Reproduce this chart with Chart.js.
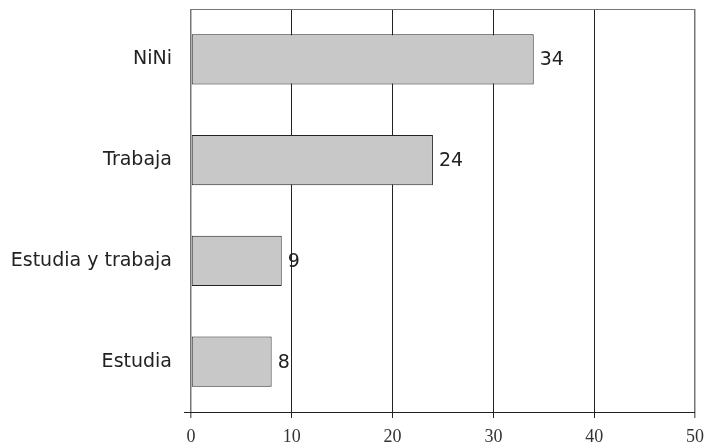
<!DOCTYPE html>
<html><head><meta charset="utf-8">
<script src="https://cdn.jsdelivr.net/npm/chart.js@4/dist/chart.umd.min.js"></script>
<style>html,body{margin:0;padding:0;background:#fff}#wrap{width:705px;height:447px;position:relative}</style>
</head><body><div id="wrap"><canvas id="c" width="705" height="447"></canvas></div>
<script>
const categories = ["NiNi", "Trabaja", "Estudia y trabaja", "Estudia"];
const values = [34, 24, 9, 8];
const xTicks = [0, 10, 20, 30, 40, 50];

const framePlugin = {
  id: 'frame',
  afterDraw(chart) {
    const {ctx, chartArea: a} = chart;
    ctx.save();
    ctx.lineWidth = 1;
    ctx.strokeStyle = '#777';
    ctx.beginPath();
    ctx.moveTo(a.left, a.top + 0.5); ctx.lineTo(a.right, a.top + 0.5);
    ctx.stroke();
    ctx.strokeStyle = '#222';
    ctx.beginPath();
    ctx.moveTo(a.left - 7, a.bottom + 0.5); ctx.lineTo(a.right, a.bottom + 0.5);
    ctx.stroke();
    ctx.fillStyle = '#222';
    ctx.font = '19px "DejaVu Sans"';
    ctx.textBaseline = 'middle';
    ctx.textAlign = 'left';
    const meta = chart.getDatasetMeta(0);
    meta.data.forEach((bar, i) => {
      ctx.fillText(String(values[i]), bar.x + 6, bar.y + 1);
    });
    ctx.restore();
  }
};

function zeroPad(s) { s.paddingTop = 0; s.paddingBottom = 0; s.paddingLeft = 0; s.paddingRight = 0; }

new Chart(document.getElementById('c'), {
  type: 'bar',
  data: {
    labels: categories,
    datasets: [{
      data: values,
      backgroundColor: '#c8c8c8',
      borderColor: '#222',
      borderWidth: 1,
      borderSkipped: false,
      barPercentage: 0.5,
      categoryPercentage: 1.0
    }]
  },
  options: {
    indexAxis: 'y',
    responsive: false,
    animation: false,
    events: [],
    layout: {padding: {top: 9, right: 10, left: 0, bottom: 0}},
    plugins: {legend: {display: false}, tooltip: {enabled: false}},
    scales: {
      x: {
        min: 0, max: 50,
        afterBuildTicks(s) { s.ticks = xTicks.map(v => ({value: v})); },
        afterFit(s) { s.height = 35; zeroPad(s); },
        grid: {
          color: ctx => (ctx.tick && (ctx.tick.value === 0 || ctx.tick.value === 50)) ? '#777' : '#222',
          lineWidth: ctx => (ctx.tick && (ctx.tick.value === 0 || ctx.tick.value === 50)) ? 1.5 : 1,
          tickLength: 6,
          drawOnChartArea: true
        },
        border: {display: false},
        ticks: {
          font: {family: '"Liberation Serif"', size: 18},
          color: '#333',
          padding: 8,
          maxRotation: 0
        }
      },
      y: {
        afterFit(s) { s.width = 191; zeroPad(s); },
        grid: {display: false},
        border: {display: false},
        ticks: {
          font: {family: '"DejaVu Sans"', size: 19},
          color: '#222',
          padding: 11
        }
      }
    }
  },
  plugins: [framePlugin]
});
</script>
</body></html>
